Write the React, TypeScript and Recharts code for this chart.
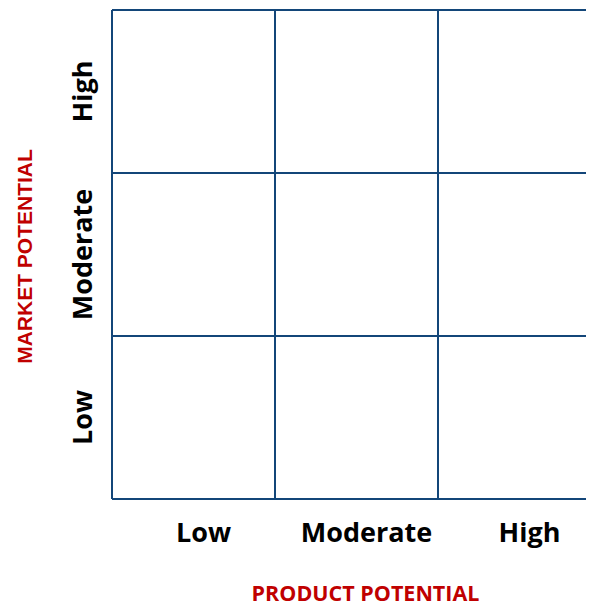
import React from "react";
import { ComposedChart, XAxis, YAxis, ReferenceLine, Scatter } from "recharts";

const productLevels = ["Low", "Moderate", "High"];
const marketLevels = ["Low", "Moderate", "High"];
const tickPositions = [0.5, 1.5, 2.5];
const gridBounds = [0, 1, 2, 3];
const cells = [
  { x: 0.5, y: 0.5 }, { x: 1.5, y: 0.5 }, { x: 2.5, y: 0.5 },
  { x: 0.5, y: 1.5 }, { x: 1.5, y: 1.5 }, { x: 2.5, y: 1.5 },
  { x: 0.5, y: 2.5 }, { x: 1.5, y: 2.5 }, { x: 2.5, y: 2.5 },
];
const xTitle = "PRODUCT POTENTIAL";
const yTitle = "MARKET POTENTIAL";

const LINE = "#134679";
const RED = "#C00000";
const TICK_FONT = "'Open Sans', sans-serif";

const XTick = (props: any) => {
  const { x, payload } = props;
  return (
    <text x={x + 10} y={542} textAnchor="middle" fontFamily={TICK_FONT} fontWeight={700} fontSize={27} fill="#000">
      {productLevels[Math.floor(payload.value)]}
    </text>
  );
};

const YTick = (props: any) => {
  const { y, payload } = props;
  return (
    <text transform={`translate(92, ${y}) rotate(-90)`} textAnchor="middle" fontFamily={TICK_FONT} fontWeight={700} fontSize={27} fill="#000">
      {marketLevels[Math.floor(payload.value)]}
    </text>
  );
};

const XTitle = (props: any) => {
  const vb = props.viewBox || {};
  const cx = (vb.x ?? 112) + (vb.width ?? 489) / 2 + 9;
  return (
    <text x={cx} y={601} textAnchor="middle" fontFamily={TICK_FONT} fontWeight={700} fontSize={21.5} fill={RED}>
      {xTitle}
    </text>
  );
};

const YTitle = (props: any) => {
  const vb = props.viewBox || {};
  const cy = (vb.y ?? 10) + (vb.height ?? 489) / 2 + 2;
  return (
    <text transform={`translate(32, ${cy}) rotate(-90)`} textAnchor="middle" fontFamily="'Liberation Sans', Arial, sans-serif" fontWeight={700} fontSize={21} fill={RED}>
      {yTitle}
    </text>
  );
};

export default function App() {
  return (
    <div style={{ marginLeft: -8, marginTop: -8, width: 602, height: 607, background: "#fff" }}>
      <ComposedChart width={602} height={607} data={cells} margin={{ top: 10, right: 1, left: 0, bottom: 0 }}>
        <XAxis
          type="number"
          dataKey="x"
          domain={[0, 3]}
          ticks={tickPositions}
          allowDataOverflow
          axisLine={false}
          tickLine={false}
          tickSize={0}
          tickMargin={0}
          height={108}
          tick={<XTick />}
          label={<XTitle />}
        />
        <YAxis
          type="number"
          dataKey="y"
          domain={[0, 3]}
          ticks={tickPositions}
          allowDataOverflow
          axisLine={false}
          tickLine={false}
          tickSize={0}
          tickMargin={0}
          width={112}
          tick={<YTick />}
          label={<YTitle />}
        />
        {gridBounds.map((v) => (
          <ReferenceLine key={"x" + v} x={v} stroke={LINE} strokeWidth={2} ifOverflow="visible" />
        ))}
        {gridBounds.map((v) => (
          <ReferenceLine key={"y" + v} y={v} stroke={LINE} strokeWidth={2} ifOverflow="visible" />
        ))}
        <Scatter data={cells} dataKey="y" fill="none" shape={() => <g />} isAnimationActive={false} />
      </ComposedChart>
    </div>
  );
}
